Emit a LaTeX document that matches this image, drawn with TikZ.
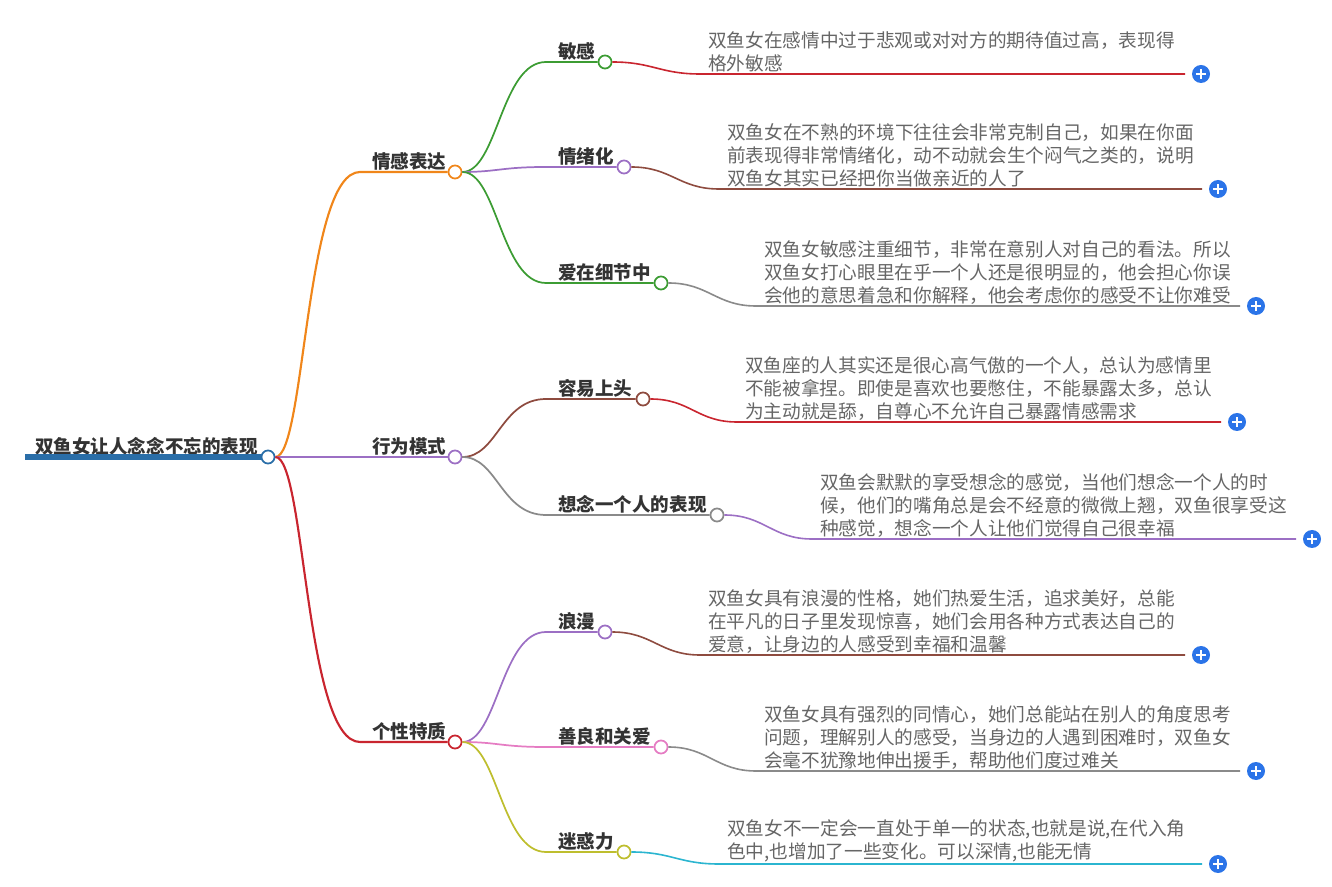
\documentclass[tikz,border=0pt]{standalone}
\usepackage{fontspec}
\setmainfont{Noto Sans CJK SC}
\usepackage{xcolor}
\usetikzlibrary{positioning}
\definecolor{mapBlue}{HTML}{2A6EA8}
\definecolor{mapOrange}{HTML}{F0861A}
\definecolor{mapPurple}{HTML}{9C6FC4}
\definecolor{mapRed}{HTML}{C9252F}
\definecolor{mapGreen}{HTML}{3C9C33}
\definecolor{mapBrown}{HTML}{8E4B3F}
\definecolor{mapGray}{HTML}{8A8A8A}
\definecolor{mapPink}{HTML}{E57CC3}
\definecolor{mapOlive}{HTML}{BEBE2E}
\definecolor{mapCyan}{HTML}{2BB5D0}
\definecolor{mapPlus}{HTML}{2B74E8}
\definecolor{mapText}{HTML}{666666}
\definecolor{mapLabel}{HTML}{333333}

\begin{document}
\begin{tikzpicture}[
  x=0.75pt, y=-0.75pt,
  dot/.style={
    circle, draw=#1, fill=white, line width=1.3pt,
    minimum size=9.8pt, inner sep=0pt
  },
  lbl/.style={
    anchor=south west, inner xsep=9pt, inner ysep=1pt,
    font=\fontsize{13.9pt}{16pt}\selectfont\bfseries,
    text=mapLabel
  },
  detail/.style={
    anchor=south west, align=left, inner xsep=6pt, inner ysep=1pt,
    font=\fontsize{14pt}{17.25pt}\selectfont,
    text=mapText
  },
  plus/.style={
    circle, fill=mapPlus, minimum size=13.5pt, inner sep=0pt,
    path picture={
      \draw[white, line width=1.4pt]
        ([xshift=-3.8pt]path picture bounding box.center) --
        ([xshift=3.8pt]path picture bounding box.center)
        ([yshift=-3.8pt]path picture bounding box.center) --
        ([yshift=3.8pt]path picture bounding box.center);
    }
  },
  l1/.style={line width=1.6pt},
  l2/.style={line width=1.3pt},
  l3/.style={line width=1.2pt}
]
\useasboundingbox (0,0) rectangle (1332,887);

% Root
\node[lbl, inner xsep=7.5pt] (rootlbl) at (25,457) {双鱼女让人念念不忘的表现};
\node[dot=mapBlue] (root) at (268,457) {};
\draw[mapBlue, line width=3.8pt] (rootlbl.south west) -- (root.west);

% Level 1
\node[lbl] (emolbl) at (360,172) {情感表达};
\node[dot=mapOrange] (emo) at (455,172) {};
\node[lbl] (behlbl) at (360,457) {行为模式};
\node[dot=mapPurple] (beh) at (455,457) {};
\node[lbl] (perlbl) at (360,742) {个性特质};
\node[dot=mapRed] (per) at (455,742) {};

\draw[l1, mapOrange] (root.east) .. controls +(30,0) and +(-55,0) .. (emolbl.south west) -- (emo.west);
\draw[l1, mapPurple] (root.east) -- (behlbl.south west) -- (beh.west);
\draw[l1, mapRed] (root.east) .. controls +(30,0) and +(-55,0) .. (perlbl.south west) -- (per.west);

% Level 2: emotion
\node[lbl] (senslbl) at (546,62) {敏感};
\node[dot=mapGreen] (sens) at (605,62) {};
\node[lbl] (moodlbl) at (546,167) {情绪化};
\node[dot=mapPurple] (mood) at (624,167) {};
\node[lbl] (detlbl) at (546,283) {爱在细节中};
\node[dot=mapGreen] (det) at (661,283) {};

\draw[l2, mapGreen] (emo.east) .. controls +(35,0) and +(-45,0) .. (senslbl.south west) -- (sens.west);
\draw[l2, mapPurple] (emo.east) .. controls +(35,0) and +(-45,0) .. (moodlbl.south west) -- (mood.west);
\draw[l2, mapGreen] (emo.east) .. controls +(35,0) and +(-45,0) .. (detlbl.south west) -- (det.west);

% Level 2: behaviour
\node[lbl] (headlbl) at (546,399) {容易上头};
\node[dot=mapBrown] (head) at (643,399) {};
\node[lbl] (misslbl) at (546,515) {想念一个人的表现};
\node[dot=mapGray] (miss) at (717,515) {};

\draw[l2, mapBrown] (beh.east) .. controls +(35,0) and +(-45,0) .. (headlbl.south west) -- (head.west);
\draw[l2, mapGray] (beh.east) .. controls +(35,0) and +(-45,0) .. (misslbl.south west) -- (miss.west);

% Level 2: personality
\node[lbl] (romlbl) at (546,632) {浪漫};
\node[dot=mapPurple] (rom) at (605,632) {};
\node[lbl] (kindlbl) at (546,747) {善良和关爱};
\node[dot=mapPink] (kind) at (661,747) {};
\node[lbl] (charmlbl) at (546,852) {迷惑力};
\node[dot=mapOlive] (charm) at (624,852) {};

\draw[l2, mapPurple] (per.east) .. controls +(35,0) and +(-45,0) .. (romlbl.south west) -- (rom.west);
\draw[l2, mapPink] (per.east) .. controls +(35,0) and +(-45,0) .. (kindlbl.south west) -- (kind.west);
\draw[l2, mapOlive] (per.east) .. controls +(35,0) and +(-45,0) .. (charmlbl.south west) -- (charm.west);

% Level 3 texts
\node[detail] (senstxt) at (700,74) {双鱼女在感情中过于悲观或对对方的期待值过高，表现得\\格外敏感};
\node[plus] (sensplus) at (1201,74) {};
\node[detail] (moodtxt) at (719,189) {双鱼女在不熟的环境下往往会非常克制自己，如果在你面\\前表现得非常情绪化，动不动就会生个闷气之类的，说明\\双鱼女其实已经把你当做亲近的人了};
\node[plus] (moodplus) at (1218,189) {};
\node[detail] (dettxt) at (756,306) {双鱼女敏感注重细节，非常在意别人对自己的看法。所以\\双鱼女打心眼里在乎一个人还是很明显的，他会担心你误\\会他的意思着急和你解释，他会考虑你的感受不让你难受};
\node[plus] (detplus) at (1256,306) {};
\node[detail] (headtxt) at (737,422) {双鱼座的人其实还是很心高气傲的一个人，总认为感情里\\不能被拿捏。即使是喜欢也要憋住，不能暴露太多，总认\\为主动就是舔，自尊心不允许自己暴露情感需求};
\node[plus] (headplus) at (1237,422) {};
\node[detail] (misstxt) at (812,539) {双鱼会默默的享受想念的感觉，当他们想念一个人的时\\候，他们的嘴角总是会不经意的微微上翘，双鱼很享受这\\种感觉，想念一个人让他们觉得自己很幸福};
\node[plus] (missplus) at (1312,539) {};
\node[detail] (romtxt) at (700,655) {双鱼女具有浪漫的性格，她们热爱生活，追求美好，总能\\在平凡的日子里发现惊喜，她们会用各种方式表达自己的\\爱意，让身边的人感受到幸福和温馨};
\node[plus] (romplus) at (1201,655) {};
\node[detail] (kindtxt) at (756,771) {双鱼女具有强烈的同情心，她们总能站在别人的角度思考\\问题，理解别人的感受，当身边的人遇到困难时，双鱼女\\会毫不犹豫地伸出援手，帮助他们度过难关};
\node[plus] (kindplus) at (1256,771) {};
\node[detail] (charmtxt) at (719,864) {双鱼女不一定会一直处于单一的状态,也就是说,在代入角\\色中,也增加了一些变化。可以深情,也能无情};
\node[plus] (charmplus) at (1218,864) {};

% Level 3 connectors
\draw[l3, mapRed] (sens.east) .. controls +(40,0) and +(-40,0) .. (senstxt.south west) -- ([xshift=-5pt]sensplus.west);
\draw[l3, mapBrown] (mood.east) .. controls +(40,0) and +(-40,0) .. (moodtxt.south west) -- ([xshift=-5pt]moodplus.west);
\draw[l3, mapGray] (det.east) .. controls +(40,0) and +(-40,0) .. (dettxt.south west) -- ([xshift=-5pt]detplus.west);
\draw[l3, mapRed] (head.east) .. controls +(40,0) and +(-40,0) .. (headtxt.south west) -- ([xshift=-5pt]headplus.west);
\draw[l3, mapPurple] (miss.east) .. controls +(40,0) and +(-40,0) .. (misstxt.south west) -- ([xshift=-5pt]missplus.west);
\draw[l3, mapBrown] (rom.east) .. controls +(40,0) and +(-40,0) .. (romtxt.south west) -- ([xshift=-5pt]romplus.west);
\draw[l3, mapGray] (kind.east) .. controls +(40,0) and +(-40,0) .. (kindtxt.south west) -- ([xshift=-5pt]kindplus.west);
\draw[l3, mapCyan] (charm.east) .. controls +(40,0) and +(-40,0) .. (charmtxt.south west) -- ([xshift=-5pt]charmplus.west);

\end{tikzpicture}
\end{document}
